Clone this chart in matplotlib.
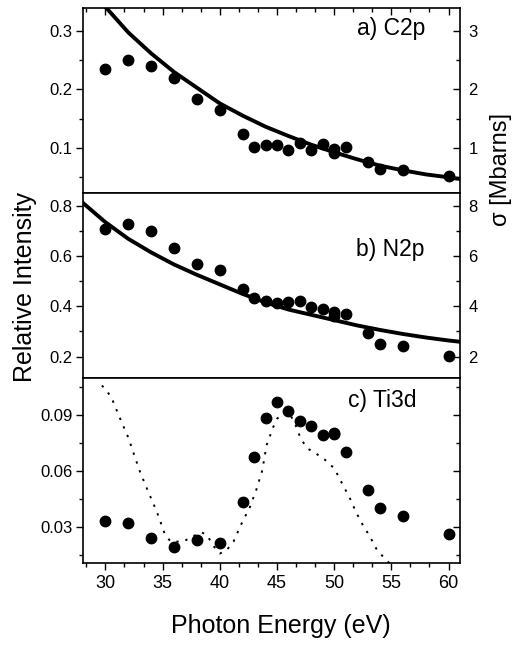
import matplotlib
matplotlib.use("Agg")
import matplotlib.pyplot as plt
from matplotlib.ticker import MultipleLocator, NullFormatter

plt.rcParams['font.family'] = ['Liberation Sans', 'DejaVu Sans']

# ---- data ----
energy = [30, 32, 34, 36, 38, 40, 42, 43, 44, 45, 46, 47, 48, 49, 50, 50, 51, 53, 54, 56, 60]
c2p = [0.236, 0.250, 0.240, 0.220, 0.183, 0.165, 0.123, 0.101, 0.104, 0.104, 0.096, 0.108,
       0.096, 0.107, 0.098, 0.091, 0.101, 0.075, 0.064, 0.062, 0.052]
n2p = [0.706, 0.728, 0.701, 0.631, 0.567, 0.544, 0.468, 0.432, 0.421, 0.414, 0.416, 0.422,
       0.398, 0.389, 0.379, 0.361, 0.369, 0.293, 0.251, 0.242, 0.204]
ti3d = [0.0332, 0.0318, 0.0242, 0.0192, 0.0230, 0.0210, 0.0434, 0.0673, 0.0886, 0.0970,
        0.0923, 0.0869, 0.0842, 0.0796, 0.0805, 0.0800, 0.0700, 0.0497, 0.0402, 0.0359, 0.0259]

# cross-section curves
c2p_curve_e = [30, 32, 34, 36, 38, 40, 42, 44, 46, 48, 50, 52, 54, 56, 58, 60, 61]
c2p_curve = [0.342, 0.298, 0.262, 0.230, 0.203, 0.176, 0.155, 0.136, 0.120, 0.105,
             0.092, 0.080, 0.069, 0.061, 0.054, 0.049, 0.046]
n2p_curve_e = [28, 30, 32, 34, 36, 38, 40, 42, 44, 46, 48, 50, 52, 54, 56, 58, 60, 61]
n2p_curve = [0.812, 0.734, 0.668, 0.614, 0.566, 0.525, 0.487, 0.449, 0.415, 0.387,
             0.366, 0.345, 0.324, 0.306, 0.290, 0.276, 0.264, 0.259]
ti_curve_e = [29.7, 30.5, 31.3, 32.0, 32.5, 33.0, 33.6, 34.5, 35.2, 35.7, 36.8, 37.7, 38.4,
              38.9, 39.4, 40.0, 40.6, 41.2, 42.0, 42.6, 43.2, 43.7, 44.1, 44.7, 45.0, 45.5,
              46.1, 46.6, 47.1, 47.7, 48.5, 49.2, 49.9, 50.3, 50.8, 51.4, 51.9, 52.5, 53.1,
              53.7, 54.4, 54.9]
ti_curve = [0.106, 0.100, 0.088, 0.078, 0.069, 0.060, 0.051, 0.038, 0.026, 0.022, 0.022,
            0.025, 0.027, 0.0255, 0.020, 0.0156, 0.0174, 0.022, 0.033, 0.040, 0.050, 0.060,
            0.074, 0.084, 0.088, 0.091, 0.091, 0.085, 0.077, 0.072, 0.069, 0.066, 0.062,
            0.058, 0.052, 0.045, 0.038, 0.031, 0.025, 0.018, 0.013, 0.010]

panel_labels = ["a) C2p", "b) N2p", "c) Ti3d"]
x_ticks = [30, 35, 40, 45, 50, 55, 60]

W, H = 516, 645
fig = plt.figure(figsize=(W / 100, H / 100), dpi=100)

left = 82.5 / W
width = (460 - 82.5) / W
ph = 185 / H
bottoms = [1 - 193 / H, 1 - 378 / H, 1 - 563 / H]

axes = [fig.add_axes([left, b, width, ph]) for b in bottoms]

ylims = [(0.022, 0.34), (0.115, 0.85), (0.0105, 0.11)]
ymaj = [0.1, 0.2, 0.03]
ymin = [0.05, 0.1, 0.015]
label_pos = [(0.907, 0.854), (0.907, 0.658), (0.885, 0.845)]

for i, ax in enumerate(axes):
    ax.set_xlim(28, 61)
    ax.set_ylim(*ylims[i])
    ax.xaxis.set_major_locator(MultipleLocator(5))
    ax.xaxis.set_minor_locator(MultipleLocator(5 / 3))
    ax.yaxis.set_major_locator(MultipleLocator(ymaj[i]))
    ax.yaxis.set_minor_locator(MultipleLocator(ymin[i]))
    for s in ax.spines.values():
        s.set_linewidth(1.2)
    ax.tick_params(axis='y', which='both', direction='out', left=True, right=False,
                   labelsize=12, width=1.0, pad=2)
    ax.tick_params(axis='y', which='major', length=5)
    ax.tick_params(axis='y', which='minor', length=2.8)
    ax.text(*label_pos[i], panel_labels[i], transform=ax.transAxes, ha='right',
            va='baseline', fontsize=16.5)

# top panel: ticks on top spine, inward; no bottom ticks
axes[0].tick_params(axis='x', which='both', top=True, bottom=False, labelbottom=False,
                    direction='in', width=1.0)
axes[0].tick_params(axis='x', which='major', length=5)
axes[0].tick_params(axis='x', which='minor', length=2.8)
axes[1].tick_params(axis='x', which='both', top=False, bottom=False, labelbottom=False)
axes[2].tick_params(axis='x', which='both', top=False, bottom=True, direction='out',
                    labelsize=13, width=1.0, pad=4)
axes[2].tick_params(axis='x', which='major', length=5)
axes[2].tick_params(axis='x', which='minor', length=2.8)
axes[2].set_xticks(x_ticks)

axes[0].yaxis.set_major_formatter(plt.FuncFormatter(lambda v, p: f"{v:.1f}"))
axes[1].yaxis.set_major_formatter(plt.FuncFormatter(lambda v, p: f"{v:.1f}"))
axes[2].yaxis.set_major_formatter(plt.FuncFormatter(lambda v, p: f"{v:.2f}"))

# right axes (sigma)
for i, ax in enumerate(axes):
    tw = ax.twinx()
    tw.set_ylim(ylims[i][0] * 10, ylims[i][1] * 10)
    tw.yaxis.set_major_locator(MultipleLocator(ymaj[i] * 10))
    tw.yaxis.set_minor_locator(MultipleLocator(ymin[i] * 10))
    tw.tick_params(axis='y', which='both', direction='in', labelsize=12, width=1.0, pad=6)
    tw.tick_params(axis='y', which='major', length=5)
    tw.tick_params(axis='y', which='minor', length=2.8)
    for s in tw.spines.values():
        s.set_visible(False)
    if i == 2:
        tw.yaxis.set_major_formatter(NullFormatter())

mk = dict(marker='o', linestyle='none', color='black', markersize=7.5)
axes[0].plot(c2p_curve_e, c2p_curve, color='black', lw=2.8)
axes[0].plot(energy, c2p, **mk)
axes[1].plot(n2p_curve_e, n2p_curve, color='black', lw=2.8)
axes[1].plot(energy, n2p, **mk)
axes[2].plot(ti_curve_e, ti_curve, color='black', lw=1.4, linestyle=(0, (1.2, 3.6)))
axes[2].plot(energy, ti3d, **mk)

fig.text(280.5 / W, 1 - 626 / H, "Photon Energy (eV)", ha='center', va='center', fontsize=18)
fig.text(25 / W, 1 - 287.5 / H, "Relative Intensity", ha='center', va='center',
         rotation=90, fontsize=18)
fig.text(501 / W, 1 - 169 / H, "σ [Mbarns]", ha='center', va='center',
         rotation=90, fontsize=17)

fig.savefig("out.png", dpi=100)
